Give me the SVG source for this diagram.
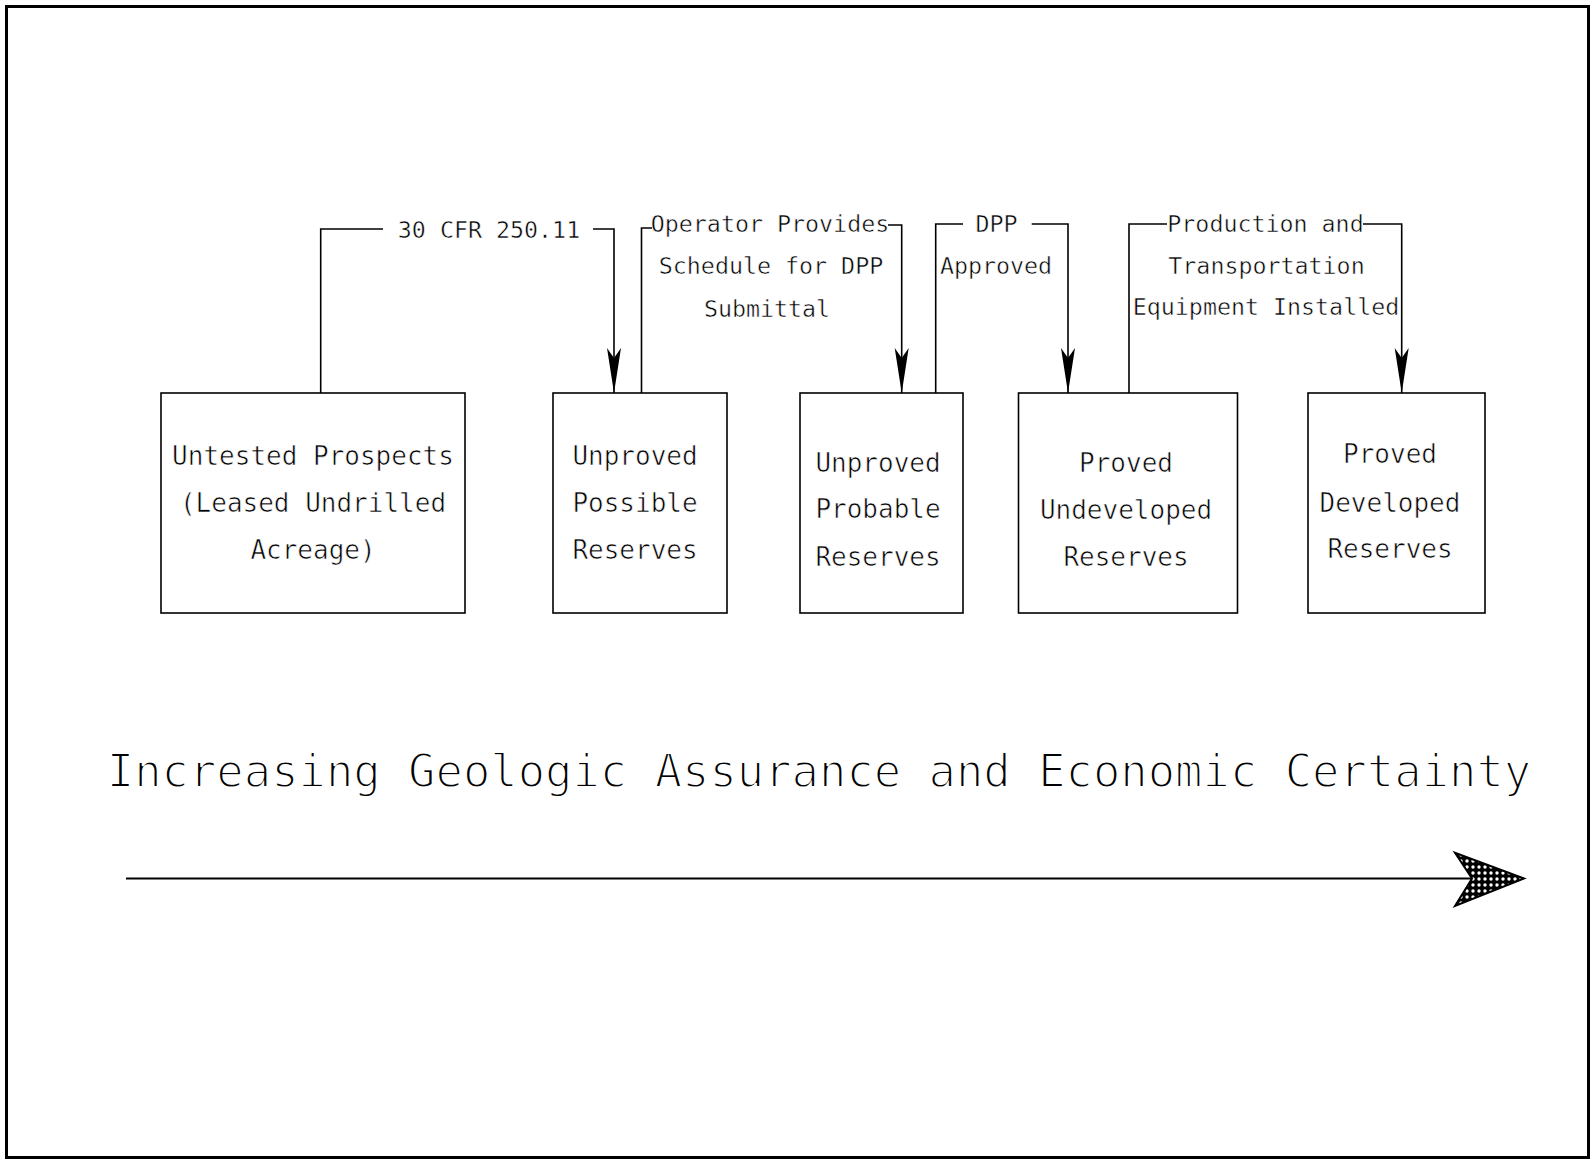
<svg xmlns="http://www.w3.org/2000/svg" width="1591" height="1160" viewBox="0 0 1591 1160">
<style>
.box{fill:#fff;stroke:#000;stroke-width:1.6}
.bt{font-family:"DejaVu Sans Mono","Liberation Mono",monospace;font-size:26px;fill:#000;text-anchor:middle;stroke:#fff;stroke-width:0.6}
.lt{font-family:"DejaVu Sans Mono","Liberation Mono",monospace;font-size:23.3px;fill:#000;text-anchor:middle;stroke:#fff;stroke-width:0.5}
.title{font-family:"DejaVu Sans Mono","Liberation Mono",monospace;font-size:45.5px;fill:#000;text-anchor:middle;stroke:#fff;stroke-width:1.8}
.conn{fill:none;stroke:#000;stroke-width:1.6}
</style>
<defs>
<marker id="ah" markerUnits="userSpaceOnUse" markerWidth="50" markerHeight="20" refX="0" refY="0" orient="auto" overflow="visible">
<path d="M0,0 L-45,-7 L-35,0 L-45,7 Z" fill="#000"/>
</marker>
<pattern id="dots" patternUnits="userSpaceOnUse" width="6" height="6">
<rect width="6" height="6" fill="#000"/>
<circle cx="3" cy="3" r="1.7" fill="#fff"/>
</pattern>
</defs>
<rect x="6.5" y="6.5" width="1582" height="1151" fill="#fff" stroke="#000" stroke-width="3"/>

<g id="connectors">
<path class="conn" d="M320.7,393 V229 H383"/>
<path class="conn" d="M593,229 H614 V393" marker-end="url(#ah)"/>
<path class="conn" d="M641.5,393 V228 H652"/>
<path class="conn" d="M888,225 H901.7 V393" marker-end="url(#ah)"/>
<path class="conn" d="M935.7,393 V224 H963"/>
<path class="conn" d="M1031.7,224 H1068 V393" marker-end="url(#ah)"/>
<path class="conn" d="M1129,393 V224 H1167"/>
<path class="conn" d="M1363,224 H1401.7 V393" marker-end="url(#ah)"/>
<text class="lt" x="489" y="238">30 CFR 250.11</text>
<text class="lt" x="770" y="232">Operator Provides</text>
<text class="lt" x="771" y="274">Schedule for DPP</text>
<text class="lt" x="767" y="317">Submittal</text>
<text class="lt" x="996.5" y="232">DPP</text>
<text class="lt" x="996" y="274">Approved</text>
<text class="lt" x="1265.5" y="232">Production and</text>
<text class="lt" x="1266.5" y="274">Transportation</text>
<text class="lt" x="1266" y="315">Equipment Installed</text>
</g>

<g id="node-untested">
<rect class="box" x="161" y="393" width="304" height="220"/>
<text class="bt" x="313" y="465">Untested Prospects</text>
<text class="bt" x="313" y="512">(Leased Undrilled</text>
<text class="bt" x="313" y="559">Acreage)</text>
</g>
<g id="node-possible">
<rect class="box" x="553" y="393" width="174" height="220"/>
<text class="bt" x="635" y="465">Unproved</text>
<text class="bt" x="635" y="512">Possible</text>
<text class="bt" x="635" y="559">Reserves</text>
</g>
<g id="node-probable">
<rect class="box" x="800" y="393" width="163" height="220"/>
<text class="bt" x="878" y="472">Unproved</text>
<text class="bt" x="878" y="518">Probable</text>
<text class="bt" x="878" y="566">Reserves</text>
</g>
<g id="node-pud">
<rect class="box" x="1018.5" y="393" width="219" height="220"/>
<text class="bt" x="1126" y="472">Proved</text>
<text class="bt" x="1126" y="519">Undeveloped</text>
<text class="bt" x="1126" y="566">Reserves</text>
</g>
<g id="node-pd">
<rect class="box" x="1308" y="393" width="177" height="220"/>
<text class="bt" x="1390" y="463">Proved</text>
<text class="bt" x="1390" y="512">Developed</text>
<text class="bt" x="1390" y="558">Reserves</text>
</g>

<g id="certainty-axis">
<text class="title" x="819" y="787">Increasing Geologic Assurance and Economic Certainty</text>
<line x1="126" y1="878.5" x2="1472" y2="878.5" stroke="#000" stroke-width="2"/>
<polygon points="1524,878.5 1455,852.7 1472,878.5 1455,906" fill="url(#dots)" stroke="#000" stroke-width="2" stroke-linejoin="miter"/>
</g>
</svg>
